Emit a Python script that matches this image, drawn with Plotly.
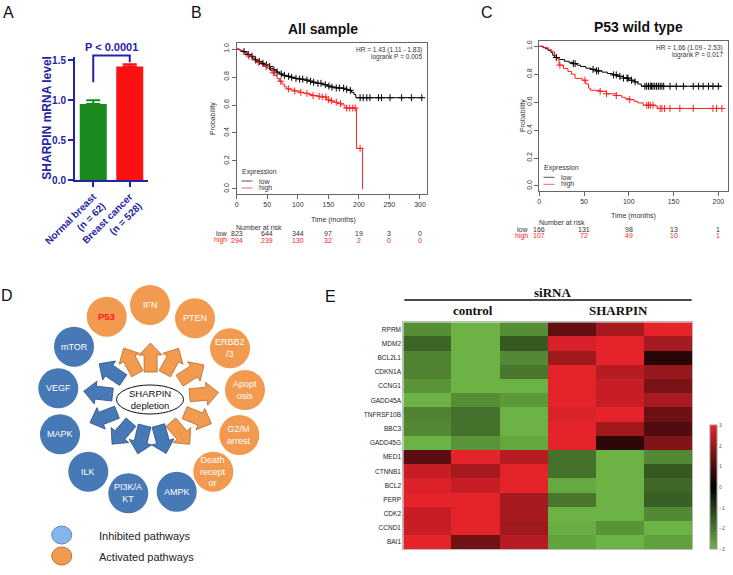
import math
import plotly.graph_objects as go

W, H = 733, 575
FONT = "Liberation Sans, Arial, sans-serif"
SERIF = "Liberation Serif, Times New Roman, serif"


def px(x):
    return x / W


def py(y):
    return 1 - y / H


# ---------------- Panel A data ----------------
a_groups = ["Normal breast<br>(n = 62)", "Breast cancer<br>(n = 528)"]
a_means = [0.95, 1.42]
a_sem = [0.05, 0.03]
a_colors = ["#1a8a1f", "#ff1010"]
a_yticks = [0.0, 0.5, 1.0, 1.5]
a_pvalue = "P < 0.0001"
a_ytitle = "SHARPIN mRNA level"
A_BLUE = "#2323a6"
A_YMAX = 1.54

# ---------------- Panel B data (All sample) ----------------
b_low_t = [0, 3, 6, 10, 14, 18, 22, 26, 30, 35, 40, 45, 50, 55, 60, 65, 70, 75, 80, 88,
           95, 102, 110, 118, 125, 132, 140, 148, 155, 162, 170, 176, 182, 188, 192, 195, 303]
b_low_s = [1.0, 0.995, 0.99, 0.982, 0.972, 0.96, 0.948, 0.935, 0.922, 0.91, 0.898, 0.887,
           0.875, 0.862, 0.85, 0.835, 0.822, 0.812, 0.805, 0.798, 0.79, 0.785, 0.778, 0.77,
           0.762, 0.755, 0.745, 0.735, 0.728, 0.722, 0.72, 0.712, 0.705, 0.69, 0.675, 0.652, 0.652]
b_low_cens = [12, 19, 25, 31, 37, 43, 49, 54, 61, 66, 73, 78, 85, 90, 97, 103, 108, 115, 121,
              126, 133, 138, 145, 151, 156, 163, 168, 175, 180, 186, 202, 207, 213, 218, 232,
              237, 251, 270, 286, 303]
b_high_t = [0, 5, 10, 15, 20, 25, 30, 35, 40, 45, 50, 55, 58, 62, 66, 70, 74, 78, 82, 88,
            95, 104, 110, 118, 125, 133, 139, 147, 152, 158, 165, 172, 177, 196, 206]
b_high_s = [1.0, 0.99, 0.978, 0.965, 0.95, 0.935, 0.92, 0.905, 0.89, 0.875, 0.862, 0.845,
            0.83, 0.81, 0.79, 0.77, 0.75, 0.73, 0.715, 0.708, 0.70, 0.69, 0.683, 0.675,
            0.667, 0.662, 0.657, 0.638, 0.63, 0.62, 0.61, 0.60, 0.578, 0.29, 0.0]
b_high_cens = [20, 35, 48, 60, 72, 85, 95, 105, 115, 125, 135, 140, 146, 150, 155, 163,
               170, 180, 185, 190, 194, 202]
b_risk_times = [0, 50, 100, 150, 200, 250, 300]
b_risk_low = [823, 644, 344, 97, 19, 3, 0]
b_risk_high = [294, 239, 130, 32, 2, 0, 0]
b_hr = "HR = 1.43 (1.11 - 1.83)"
b_logrank = "logrank P = 0.005"

# ---------------- Panel C data (P53 wild type) ----------------
c_low_t = [0, 4, 7, 10, 13, 15, 17, 22, 28, 33, 38, 42, 46, 52, 58, 64, 70, 76, 82, 88,
           94, 100, 106, 110, 114, 204]
c_low_s = [1.0, 0.99, 0.982, 0.97, 0.955, 0.935, 0.92, 0.905, 0.893, 0.885, 0.876, 0.865,
           0.855, 0.843, 0.835, 0.824, 0.815, 0.805, 0.795, 0.785, 0.772, 0.757, 0.745,
           0.73, 0.714, 0.714]
c_low_cens = [19, 38, 40, 60, 64, 66, 83, 86, 90, 94, 98, 99, 103, 107, 118, 120, 122, 124,
              125.5, 127, 129, 131, 133, 135, 137, 139, 146, 153, 161, 172, 178, 183, 189,
              194, 200]
c_high_t = [0, 5, 10, 14, 17, 19, 22, 27, 32, 36, 40, 48, 52, 55, 57, 68, 75, 86, 92, 96,
            101, 106, 110, 116, 130, 132, 204]
c_high_s = [1.0, 0.99, 0.975, 0.96, 0.935, 0.912, 0.865, 0.84, 0.82, 0.80, 0.77, 0.757,
            0.73, 0.70, 0.685, 0.678, 0.66, 0.648, 0.635, 0.625, 0.618, 0.605, 0.595,
            0.578, 0.571, 0.555, 0.555]
c_high_cens = [23, 51, 68, 75, 86, 101, 120, 122, 124, 127, 135, 137, 140, 146, 157, 172,
               194, 198, 204]
c_risk_times = [0, 50, 100, 150, 200]
c_risk_low = [166, 131, 98, 13, 1]
c_risk_high = [107, 72, 49, 10, 1]
c_hr = "HR = 1.66 (1.09 - 2.53)"
c_logrank = "logrank P = 0.017"

# ---------------- Panel D data ----------------
d_nodes = ["P53", "IFN", "PTEN", "ERBB2<br>/3", "Apopt<br>osis", "G2/M<br>arrest",
           "Death<br>recept<br>or", "AMPK", "PI3K/A<br>KT", "ILK", "MAPK", "VEGF", "mTOR"]
d_state = ["activated"] * 7 + ["inhibited"] * 6
d_center_label = "SHARPIN<br>depletion"
d_legend = ["Inhibited pathways", "Activated pathways"]

# ---------------- Panel E data ----------------
e_genes = ["RPRM", "MDM2", "BCL2L1", "CDKN1A", "CCNG1", "GADD45A", "TNFRSF10B", "BBC3",
           "GADD45G", "MED1", "CTNNB1", "BCL2", "PERP", "CDK2", "CCND1", "BAI1"]
e_samples = ["control 1", "control 2", "control 3", "SHARPIN 1", "SHARPIN 2", "SHARPIN 3"]
e_values = [
    [-2.4, -3.0, -2.4, 1.3, 2.2, 3.0],
    [-1.7, -3.0, -1.5, 2.8, 3.0, 2.2],
    [-2.2, -3.0, -2.3, 2.1, 3.0, 0.5],
    [-2.2, -3.0, -2.0, 3.0, 2.4, 2.0],
    [-2.5, -3.0, -3.0, 3.0, 2.6, 1.6],
    [-3.0, -2.4, -2.6, 3.0, 2.6, 2.2],
    [-2.2, -1.9, -3.0, 2.9, 3.0, 1.45],
    [-2.3, -1.9, -3.0, 3.0, 2.1, 1.05],
    [-3.0, -2.5, -2.8, 3.0, 0.6, 1.7],
    [1.2, 3.0, 2.4, -1.9, -3.0, -2.3],
    [2.6, 2.2, 3.0, -1.9, -3.0, -1.5],
    [2.9, 2.6, 3.0, -2.85, -3.0, -1.75],
    [3.0, 3.0, 2.2, -2.0, -3.0, -1.6],
    [2.6, 3.0, 2.2, -3.0, -3.0, -2.3],
    [2.6, 3.0, 2.1, -2.9, -2.5, -3.0],
    [3.0, 1.5, 2.4, -2.75, -3.0, -2.7],
]
e_cbar_ticks = [-3, -2, -1, 0, 1, 2, 3]


def surv_at(ts, ss, t):
    val = ss[0]
    for ti, si in zip(ts, ss):
        if ti <= t:
            val = si
    return val


fig = go.Figure()
annotations = []
shapes = []


def ann(x, y, text, size=7, color="#333", xanchor="center", yanchor="middle",
        xref="paper", yref="paper", family=FONT, weight="normal", align="center"):
    annotations.append(dict(x=x, y=y, xref=xref, yref=yref, text=text, showarrow=False,
                            xanchor=xanchor, yanchor=yanchor, align=align,
                            font=dict(size=size, color=color, family=family, weight=weight)))


# ================= Panel A =================
for i in range(2):
    fig.add_trace(go.Bar(x=[i], y=[a_means[i]], width=0.74, marker=dict(color=a_colors[i], line=dict(width=0)),
                         error_y=dict(type="data", symmetric=False, array=[a_sem[i]], arrayminus=[0],
                                      color=a_colors[i], thickness=2, width=7),
                         xaxis="x", yaxis="y"))

# significance bracket (axis-domain coordinates)
xl, xr = 0.25, 0.75
y_left, y_top, y_right = 1.225, 1.56, 1.475
shapes.append(dict(type="path", xref="x domain", yref="y domain",
                   path=f"M {xl} {y_left / A_YMAX} L {xl} {y_top / A_YMAX} L {xr} {y_top / A_YMAX} L {xr} {y_right / A_YMAX}",
                   line=dict(color=A_BLUE, width=2)))
ann(0.5, 1.081, a_pvalue, size=11, color=A_BLUE, xref="x domain", yref="y domain", weight="bold")
ann(px(46.7), py(118), a_ytitle, size=12, color=A_BLUE, weight="bold")
annotations[-1]["textangle"] = -90

# ================= Panel B & C (Kaplan-Meier) =================
def km(ax, yax, lt, ls, lc, ht, hs, hc):
    fig.add_trace(go.Scatter(x=lt, y=ls, mode="lines", line=dict(color="#000000", width=1, shape="hv"),
                             xaxis=ax, yaxis=yax))
    fig.add_trace(go.Scatter(x=ht, y=hs, mode="lines", line=dict(color="#ff2020", width=1, shape="hv"),
                             xaxis=ax, yaxis=yax))
    fig.add_trace(go.Scatter(x=lc, y=[surv_at(lt, ls, t) for t in lc], mode="markers",
                             marker=dict(symbol="cross-thin", size=5, line=dict(width=1, color="#000000")),
                             xaxis=ax, yaxis=yax))
    fig.add_trace(go.Scatter(x=hc, y=[surv_at(ht, hs, t) for t in hc], mode="markers",
                             marker=dict(symbol="cross-thin", size=5, line=dict(width=1, color="#ff2020")),
                             xaxis=ax, yaxis=yax))


km("x2", "y2", b_low_t, b_low_s, b_low_cens, b_high_t, b_high_s, b_high_cens)
km("x3", "y3", c_low_t, c_low_s, c_low_cens, c_high_t, c_high_s, c_high_cens)

# ================= Panel E heatmap =================
fig.add_trace(go.Heatmap(
    z=e_values, x=list(range(len(e_samples))), y=e_genes, zmin=-3, zmax=3,
    colorscale=[[0, "#6cb244"], [0.5, "#000000"], [1, "#e4232a"]],
    xaxis="x4", yaxis="y4",
    colorbar=dict(x=px(710), xanchor="left", y=py(549.3), yanchor="bottom", len=124 / H,
                  lenmode="fraction", thickness=7, thicknessmode="pixels", tickvals=e_cbar_ticks,
                  tickfont=dict(size=5, color="#555", family=FONT), outlinewidth=1,
                  outlinecolor="#999", ticks="", xpad=0, ypad=0)))

# ================= Panel labels =================
for lab, x, y in [("A", 8, 12.5), ("B", 196, 12), ("C", 487, 12.5), ("D", 7, 295), ("E", 330.5, 296)]:
    ann(px(x), py(y), lab, size=16, color="#111")

# KM titles
ann(px(322.5), py(29), "All sample", size=14, color="#111", weight="bold")
ann(px(638.3), py(26.7), "P53 wild type", size=14, color="#111", weight="bold")

# KM annotations
def km_text(x_right, y_hr, y_lr, hr, lr, xc, ytitle, x_yt, y_yt,
            leg_x, leg_y, xref, risk_times, risk_low, risk_high, nar_x, nar_y, row_y1, row_y2, lab_r):
    ann(px(x_right), py(y_hr), hr, size=6.5, color="#333", xanchor="right")
    ann(px(x_right), py(y_lr), lr, size=6.5, color="#333", xanchor="right")
    ann(px(xc), py(ytitle), "Time (months)", size=7, color="#333")
    ann(px(x_yt), py(y_yt), "Probability", size=7, color="#333")
    annotations[-1]["textangle"] = -90
    # legend
    ann(px(leg_x), py(leg_y), "Expression", size=7, color="#333", xanchor="left")
    for k, (name, col) in enumerate([("low", "#555555"), ("high", "#ff6060")]):
        yy = leg_y + 9 + 7 * k
        shapes.append(dict(type="line", xref="paper", yref="paper", x0=px(leg_x + 2), x1=px(leg_x + 13),
                           y0=py(yy), y1=py(yy), line=dict(color=col, width=1)))
        ann(px(leg_x + 17), py(yy), name, size=7, color="#333", xanchor="left")
    # number at risk
    ann(px(nar_x), py(nar_y), "Number at risk", size=7, color="#333")
    ann(px(lab_r), py(row_y1), "low", size=7, color="#333", xanchor="right")
    ann(px(lab_r), py(row_y2), "high", size=7, color="#ff2020", xanchor="right")
    for t, lo, hi in zip(risk_times, risk_low, risk_high):
        ann(t, py(row_y1), str(lo), size=7, color="#333", xref=xref)
        ann(t, py(row_y2), str(hi), size=7, color="#ff2020", xref=xref)


km_text(423.5, 50.5, 57.3, b_hr, b_logrank, 333, 220, 213, 118,
        239.5, 172, "x2", b_risk_times, b_risk_low, b_risk_high, 259, 227, 233.7, 240.3, 229.5)
km_text(725, 48.3, 54.8, c_hr, c_logrank, 633, 215.5, 523, 116,
        541.5, 168.3, "x3", c_risk_times, c_risk_low, c_risk_high, 562, 222.3, 229.3, 236, 530)

# ================= Panel D diagram =================
d_pos = [(106.7, 316.7), (150, 305), (195, 318.3), (230, 348.3), (245, 390), (239.3, 435),
         (213.3, 471.7), (176.7, 491.7), (128.3, 493.3), (88.3, 471.7), (60, 434.3),
         (58.3, 388.3), (74, 346.7)]
ORANGE, ORANGE_EDGE = "#f29a50", "#b8682c"
BLUE, BLUE_EDGE = "#4679b5", "#2b4f7e"
R = 20
RC = (151, 399)


def P(x, y):
    return f"{px(x):.5f} {py(y):.5f}"


# arrows
for (nx, ny), st in zip(d_pos, d_state):
    dx, dy = nx - RC[0], ny - RC[1]
    d = math.hypot(dx, dy)
    ux, uy = dx / d, dy / d
    nxp, nyp = -uy, ux
    t0 = 1 / math.sqrt((ux / 39) ** 2 + (uy / 27) ** 2)
    bx, by = RC[0] + t0 * ux, RC[1] + t0 * uy
    L, hl, sw, hw = 29, 12, 6.5, 11.5
    pts = [(bx + sw * nxp, by + sw * nyp),
           (bx + (L - hl) * ux + sw * nxp, by + (L - hl) * uy + sw * nyp),
           (bx + (L - hl) * ux + hw * nxp, by + (L - hl) * uy + hw * nyp),
           (bx + L * ux, by + L * uy),
           (bx + (L - hl) * ux - hw * nxp, by + (L - hl) * uy - hw * nyp),
           (bx + (L - hl) * ux - sw * nxp, by + (L - hl) * uy - sw * nyp),
           (bx - sw * nxp, by - sw * nyp)]
    path = "M " + " L ".join(P(x, y) for x, y in pts) + " Z"
    fc, ec = (ORANGE, ORANGE_EDGE) if st == "activated" else (BLUE, BLUE_EDGE)
    shapes.append(dict(type="path", xref="paper", yref="paper", path=path, fillcolor=fc,
                       line=dict(color=ec, width=0.8), layer="above"))

# center ellipse
shapes.append(dict(type="circle", xref="paper", yref="paper", x0=px(150 - 33.5), x1=px(150 + 33.5),
                   y0=py(399.5 + 14.5), y1=py(399.5 - 14.5), fillcolor="white",
                   line=dict(color="#111", width=1), layer="above"))
ann(px(150), py(399.5), d_center_label, size=9.5, color="#111")

# nodes
for (nx, ny), st, lab in zip(d_pos, d_state, d_nodes):
    fc = ORANGE if st == "activated" else BLUE
    shapes.append(dict(type="circle", xref="paper", yref="paper", x0=px(nx - R), x1=px(nx + R),
                       y0=py(ny + R), y1=py(ny - R), fillcolor=fc, line=dict(width=0), layer="above"))
    if lab == "P53":
        ann(px(nx), py(ny), lab, size=9.5, color="#ff1a1a", weight="bold")
    else:
        ann(px(nx), py(ny), lab, size=9, color="white")

# D legend
for k, (lab, fc, ec) in enumerate([(d_legend[0], "#86b5ec", "#5a8acb"), (d_legend[1], "#f29a50", "#c0722f")]):
    cy = 535 + 21 * k
    shapes.append(dict(type="circle", xref="paper", yref="paper", x0=px(51.7), x1=px(71.7),
                       y0=py(cy + 9), y1=py(cy - 9), fillcolor=fc, line=dict(color=ec, width=1), layer="above"))
    ann(px(96.7), py(cy + 0.5), lab, size=11, color="#222", xanchor="left")

# ================= Panel E headers =================
ann(px(552), py(292.5), "siRNA", size=13, color="#111", family=SERIF, weight="bold")
shapes.append(dict(type="line", xref="paper", yref="paper", x0=px(404.3), x1=px(691.7),
                   y0=py(300), y1=py(300), line=dict(color="#111", width=1.5)))
ann(px(473.3), py(310), "control", size=13, color="#111", family=SERIF, weight="bold")
ann(px(618.3), py(310.5), "SHARPIN", size=13, color="#111", family=SERIF, weight="bold")

# ================= Layout =================
km_axis = dict(showline=True, mirror=True, linecolor="#666", linewidth=1, ticks="outside",
               ticklen=4, tickcolor="#666", tickfont=dict(size=7, color="#333", family=FONT),
               showgrid=False, zeroline=False, automargin=False)

fig.update_layout(
    width=W, height=H, margin=dict(l=0, r=0, t=0, b=0, autoexpand=False), paper_bgcolor="white",
    plot_bgcolor="rgba(0,0,0,0)", showlegend=False, barmode="overlay",
    font=dict(family=FONT),
    xaxis=dict(domain=[px(75), px(148)], range=[-0.5, 1.5], tickvals=[0, 1], ticktext=a_groups,
               tickangle=-45, showline=True, linecolor=A_BLUE, linewidth=2, ticks="outside",
               ticklen=5, tickwidth=2, tickcolor=A_BLUE,
               tickfont=dict(size=10, color=A_BLUE, weight="bold", family=FONT),
               showgrid=False, zeroline=False, anchor="y", automargin=False),
    yaxis=dict(domain=[py(180), py(57)], range=[0, A_YMAX], tickvals=a_yticks,
               ticktext=[f"{v:.1f}" for v in a_yticks], showline=True, linecolor=A_BLUE,
               linewidth=2, ticks="outside", ticklen=5, tickwidth=2, tickcolor=A_BLUE,
               tickfont=dict(size=10, color=A_BLUE, weight="bold", family=FONT),
               showgrid=False, zeroline=False, anchor="x", automargin=False),
    xaxis2=dict(domain=[px(236.7), px(427.3)], range=[0, 312], tickvals=b_risk_times, anchor="y2", **km_axis),
    yaxis2=dict(domain=[py(194), py(43)], range=[-0.036, 1.043], tickvals=[0, 0.2, 0.4, 0.6, 0.8, 1.0],
                ticktext=["0.0", "0.2", "0.4", "0.6", "0.8", "1.0"], tickangle=-90, anchor="x2", **km_axis),
    xaxis3=dict(domain=[px(539.3), px(728)], range=[0, 210.8], tickvals=c_risk_times, anchor="y3", **km_axis),
    yaxis3=dict(domain=[py(191), py(40.7)], range=[-0.036, 1.04], tickvals=[0, 0.2, 0.4, 0.6, 0.8, 1.0],
                ticktext=["0.0", "0.2", "0.4", "0.6", "0.8", "1.0"], tickangle=-90, anchor="x3", **km_axis),
    xaxis4=dict(domain=[px(403.3), px(692.3)], range=[-0.5, 5.5], showticklabels=False, ticks="",
                showgrid=False, zeroline=False, showline=True, mirror=True, linecolor="#bbbbbb",
                linewidth=1, anchor="y4", automargin=False),
    yaxis4=dict(domain=[py(549.3), py(322.3)], autorange="reversed", ticks="",
                tickfont=dict(size=6.5, color="#222", family=FONT), showgrid=False, zeroline=False,
                showline=True, mirror=True, linecolor="#bbbbbb", linewidth=1, anchor="x4", automargin=False),
    annotations=annotations,
    shapes=shapes,
)

fig.write_html("out.html", config={"displayModeBar": False},
               post_script="document.body.style.margin='0px'; document.body.style.overflow='hidden';")
